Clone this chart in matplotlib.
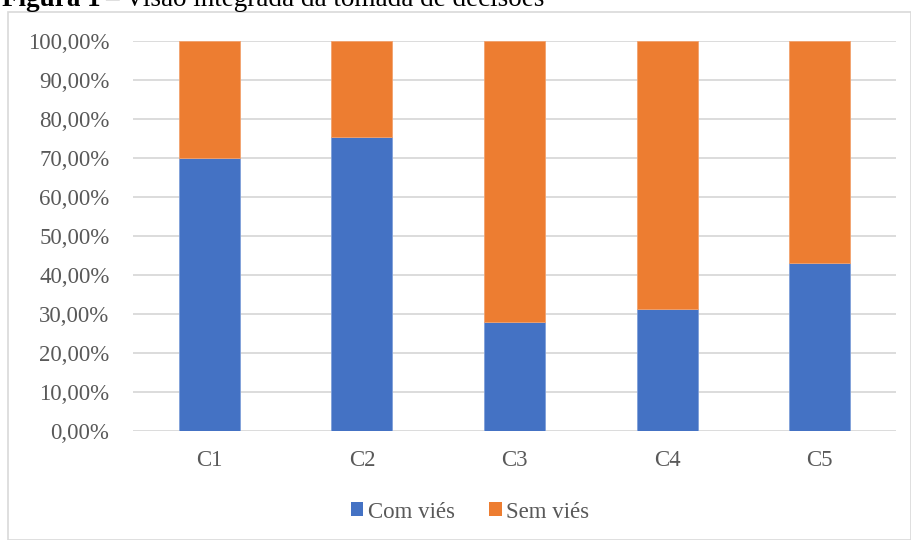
import matplotlib
matplotlib.use("Agg")
import matplotlib.pyplot as plt
from matplotlib.patches import Patch, Rectangle
from matplotlib.ticker import FuncFormatter

categories = ["C1", "C2", "C3", "C4", "C5"]
com_vies = [70.0, 75.3, 28.0, 31.2, 43.0]
sem_vies = [30.0, 24.7, 72.0, 68.8, 57.0]
yticks = [0, 10, 20, 30, 40, 50, 60, 70, 80, 90, 100]

BLUE = "#4472C4"
ORANGE = "#ED7D31"
GRID = "#D9D9D9"
TXT = "#595959"
FONT = "Liberation Serif"
FS = 16.5

W, H = 912, 540
fig = plt.figure(figsize=(W / 100, H / 100), dpi=100)
fig.patch.set_facecolor("white")

# chart frame
fig.patches.append(Rectangle((8 / W, 0), (W - 9) / W, (H - 12) / H,
                             transform=fig.transFigure, fill=False,
                             edgecolor="#D9D9D9", linewidth=1.2))

# caption above (clipped at top like the reference)
t1 = fig.text(2 / W, 1 - 6 / H, "Figura 1", fontfamily=FONT, fontsize=19.5,
              fontweight="bold", color="black", va="baseline", ha="left")
fig.canvas.draw()
bb = t1.get_window_extent()
fig.text((bb.x1 + 5) / W, 1 - 6 / H, "– Visão integrada da tomada de decisões",
         fontfamily=FONT, fontsize=19.5, color="black", va="baseline", ha="left")

ax = fig.add_axes([133 / W, (H - 431) / H, (896 - 133) / W, (431 - 41) / H])
x = range(len(categories))
ax.bar(x, com_vies, width=0.4, color=BLUE, edgecolor="#7F9FD9", linewidth=0.6, zorder=3)
ax.bar(x, sem_vies, width=0.4, bottom=com_vies, color=ORANGE, edgecolor="#F2A26E",
       linewidth=0.6, zorder=3)

ax.set_xlim(-0.5, len(categories) - 0.5)
ax.set_ylim(0, 100)
ax.set_yticks(yticks)
ax.yaxis.set_major_formatter(FuncFormatter(lambda v, p: f"{v:.2f}%".replace(".", ",")))
ax.set_xticks(list(x))
ax.set_xticklabels(categories)
ax.grid(axis="y", color=GRID, linewidth=1.3, zorder=0)
for s in ax.spines.values():
    s.set_visible(False)
ax.tick_params(axis="both", length=0, labelsize=FS, labelcolor=TXT)
ax.tick_params(axis="y", pad=17)
ax.tick_params(axis="x", pad=14)
for lab in ax.get_xticklabels() + ax.get_yticklabels():
    lab.set_fontfamily(FONT)

handles = [Patch(facecolor=BLUE, label="Com viés"), Patch(facecolor=ORANGE, label="Sem viés")]
fig.legend(handles=handles, loc="center", bbox_to_anchor=(470 / W, 1 - 512 / H), ncol=2,
           frameon=False, handlelength=0.55, handleheight=0.55, handletextpad=0.2,
           columnspacing=1.5, prop={"family": FONT, "size": FS}, labelcolor=TXT)

fig.savefig("out.png", dpi=100)
